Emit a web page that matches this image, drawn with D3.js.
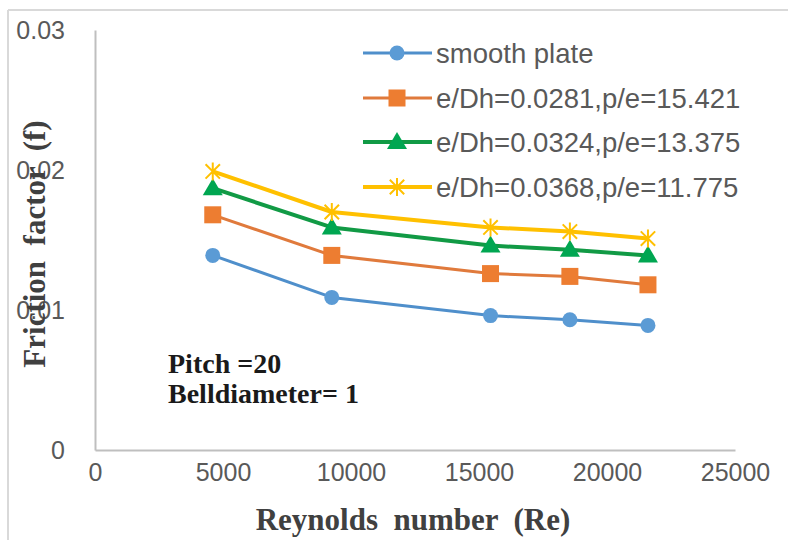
<!DOCTYPE html>
<html><head><meta charset="utf-8">
<script src="https://cdn.jsdelivr.net/npm/d3@7/dist/d3.min.js"></script>
<style>body{margin:0;background:#fff}svg{display:block}</style>
</head><body>
<svg id="c" width="788" height="540"></svg>
<script>
const reynolds = [4600, 9250, 15450, 18550, 21600];
const seriesNames = ["smooth plate", "e/Dh=0.0281,p/e=15.421", "e/Dh=0.0324,p/e=13.375", "e/Dh=0.0368,p/e=11.775"];
const smoothPlate = [0.0139, 0.0109, 0.0096, 0.0093, 0.0089];
const rib0281 = [0.0168, 0.0139, 0.0126, 0.0124, 0.0118];
const rib0324 = [0.0187, 0.0159, 0.0146, 0.0143, 0.0139];
const rib0368 = [0.0199, 0.0170, 0.0159, 0.0156, 0.0151];
const xTicks = [0, 5000, 10000, 15000, 20000, 25000];
const yTicks = [0, 0.01, 0.02, 0.03];
const yTickLabels = ["0", "0.01", "0.02", "0.03"];
const xTitle = "Reynolds  number  (Re)";
const yTitle = "Friction  factor  (f)";
const notes = ["Pitch =20", "Belldiameter= 1"];

const colors = ["#5B9BD5", "#ED7D31", "#00A651", "#FFC000"];
const lineColors = ["#4F8FCB", "#E07A3C", "#119A45", "#FFC000"];
const markers = ["circle", "square", "triangle", "star"];
const series = [smoothPlate, rib0281, rib0324, rib0368].map((v, i) => ({name: seriesNames[i], values: v, i}));

const svg = d3.select("#c");
// outer frame
svg.append("line").attr("x1", 8).attr("x2", 788).attr("y1", 10).attr("y2", 10).attr("stroke", "#d9d9d9").attr("stroke-width", 2);
svg.append("line").attr("x1", 8).attr("x2", 8).attr("y1", 10).attr("y2", 540).attr("stroke", "#d9d9d9").attr("stroke-width", 2);

const x = d3.scaleLinear().domain([0, 25000]).range([95, 735]);
const y = d3.scaleLinear().domain([0, 0.03]).range([450, 30]);

// axes
const xAxis = svg.append("g").attr("transform", "translate(0,450)")
  .call(d3.axisBottom(x).tickValues(xTicks).tickSize(0).tickPadding(26).tickFormat(d3.format("d")));
xAxis.select(".domain").attr("stroke", "#bfbfbf").attr("stroke-width", 2);
xAxis.selectAll("text").attr("font-family", "Liberation Sans, Arial, sans-serif").attr("font-size", 25).attr("fill", "#595959").attr("dy", "0.2em");

const yAxis = svg.append("g").attr("transform", "translate(95,0)")
  .call(d3.axisLeft(y).tickValues(yTicks).tickSize(0).tickPadding(30).tickFormat((d, i) => yTickLabels[i]));
yAxis.select(".domain").attr("stroke", "#bfbfbf").attr("stroke-width", 2);
yAxis.selectAll("text").attr("font-family", "Liberation Sans, Arial, sans-serif").attr("font-size", 25).attr("fill", "#595959");

function drawMarker(g, type, cx, cy, i) {
  const c = colors[i];
  if (type === "circle") g.append("circle").attr("cx", cx).attr("cy", cy).attr("r", 7.5).attr("fill", c);
  else if (type === "square") g.append("rect").attr("x", cx - 8.5).attr("y", cy - 8.5).attr("width", 17).attr("height", 17).attr("fill", c);
  else if (type === "triangle") g.append("path").attr("d", `M${cx},${cy - 10}L${cx + 10},${cy + 7}L${cx - 10},${cy + 7}Z`).attr("fill", c);
  else {
    const r = 9;
    g.append("path").attr("d", `M${cx},${cy - r}V${cy + r}M${cx - r * 0.8},${cy - r * 0.8}L${cx + r * 0.8},${cy + r * 0.8}M${cx + r * 0.8},${cy - r * 0.8}L${cx - r * 0.8},${cy + r * 0.8}`)
      .attr("stroke", c).attr("stroke-width", 2).attr("fill", "none");
  }
}

const line = d3.line().x((d, k) => x(reynolds[k])).y(d => y(d));
const lw = [3, 3, 4, 4];
series.forEach(s => {
  const g = svg.append("g");
  g.append("path").attr("d", line(s.values)).attr("fill", "none").attr("stroke", lineColors[s.i]).attr("stroke-width", lw[s.i]).attr("stroke-linejoin", "round");
  s.values.forEach((v, k) => drawMarker(g, markers[s.i], x(reynolds[k]), y(v), s.i));
});

// legend
const legY = [53, 98, 142, 187];
series.forEach(s => {
  const g = svg.append("g");
  const yy = legY[s.i];
  g.append("line").attr("x1", 363).attr("x2", 432).attr("y1", yy).attr("y2", yy).attr("stroke", lineColors[s.i]).attr("stroke-width", lw[s.i]);
  drawMarker(g, markers[s.i], 397, yy, s.i);
  g.append("text").attr("x", 436).attr("y", yy).attr("dy", "0.35em").text(s.name)
    .attr("font-family", "Liberation Sans, Arial, sans-serif").attr("font-size", 27.5).attr("fill", "#595959");
});

// titles
svg.append("text").attr("x", 413).attr("y", 530).attr("text-anchor", "middle").text(xTitle)
  .attr("font-family", "Liberation Serif, Times New Roman, serif").attr("font-weight", "bold").attr("font-size", 31)
  .attr("fill", "#404040").style("white-space", "pre");
svg.append("text").attr("transform", "translate(45,244) rotate(-90)").attr("text-anchor", "middle").text(yTitle)
  .attr("font-family", "Liberation Serif, Times New Roman, serif").attr("font-weight", "bold").attr("font-size", 31)
  .attr("fill", "#404040").style("white-space", "pre");

// notes
notes.forEach((t, i) => {
  svg.append("text").attr("x", 168).attr("y", 373 + i * 30).text(t)
    .attr("font-family", "Liberation Serif, Times New Roman, serif").attr("font-weight", "bold").attr("font-size", 28).attr("fill", "#1a1a1a");
});
</script>
</body></html>
